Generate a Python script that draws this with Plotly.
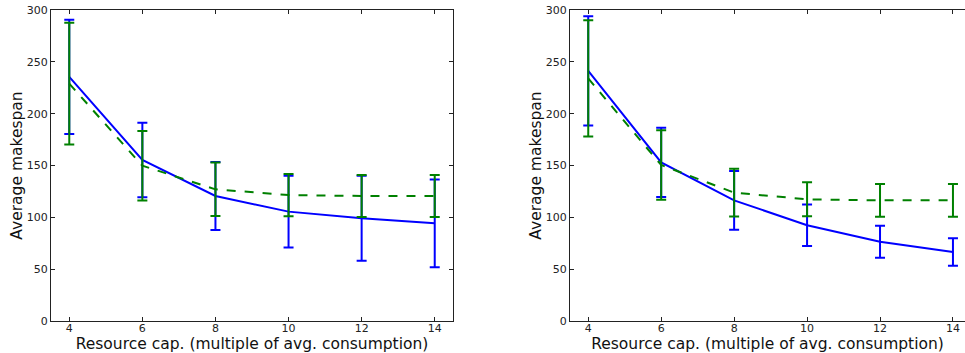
import plotly.graph_objects as go

caps = [4, 6, 8, 10, 12, 14]

left_blue = [235.5, 155.3, 120.6, 105.5, 99.0, 94.2]
left_blue_err = [55.2, 36.0, 32.7, 34.6, 41.0, 42.4]
left_green = [229.0, 149.8, 127.0, 121.5, 120.6, 120.6]
left_green_err = [58.7, 33.6, 25.8, 20.4, 20.2, 20.2]

right_blue = [241.2, 153.0, 116.4, 92.3, 76.5, 66.6]
right_blue_err = [52.7, 33.3, 28.3, 20.0, 15.4, 13.2]
right_green = [234.0, 150.5, 123.8, 117.4, 116.4, 116.4]
right_green_err = [56.0, 33.5, 23.0, 16.4, 15.8, 15.8]

x_title = "Resource cap. (multiple of avg. consumption)"
y_title = "Average makespan"
y_ticks = [0, 50, 100, 150, 200, 250, 300]

BLUE = "#0000ff"
GREEN = "#008000"

fig = go.Figure()

def add_panel(xa, ya, blue, blue_err, green, green_err):
    fig.add_trace(go.Scatter(
        x=caps, y=blue, mode="lines", xaxis=xa, yaxis=ya,
        line=dict(color=BLUE, width=2),
        error_y=dict(type="data", array=blue_err, visible=True,
                     color=BLUE, thickness=2, width=5),
        showlegend=False))
    fig.add_trace(go.Scatter(
        x=caps, y=green, mode="lines", xaxis=xa, yaxis=ya,
        line=dict(color=GREEN, width=2, dash="dash"),
        error_y=dict(type="data", array=green_err, visible=True,
                     color=GREEN, thickness=2, width=5),
        showlegend=False))

add_panel("x", "y", left_blue, left_blue_err, left_green, left_green_err)
add_panel("x2", "y2", right_blue, right_blue_err, right_green, right_green_err)

W, H = 965, 353
ax_common = dict(
    showline=True, linecolor="#222222", linewidth=1,
    ticks="inside", ticklen=4, tickcolor="#222222", tickwidth=1,
    showgrid=False, zeroline=False,
    tickfont=dict(family="DejaVu Sans", size=11, color="#222222"),
)
x_extra = dict(ticklabelstandoff=-3)
title_font = dict(family="DejaVu Sans", size=15.5, color="#111111")

fig.update_layout(
    width=W, height=H,
    margin=dict(l=0, r=0, t=10, b=32),
    plot_bgcolor="white", paper_bgcolor="white",
    xaxis=dict(domain=[51 / W, 453 / W], range=[3.5, 14.5], anchor="y",
               tickvals=caps, mirror="allticks",
               title=dict(text=x_title, standoff=0, font=title_font),
               **ax_common, **x_extra),
    yaxis=dict(domain=[0, 1], range=[0, 300], anchor="x",
               tickvals=y_ticks, mirror="allticks",
               title=dict(text=y_title, standoff=0, font=title_font),
               **ax_common),
    xaxis2=dict(domain=[570 / W, 1.0], range=[3.5, 14.33], anchor="y2",
                tickvals=caps, mirror="allticks",
                title=dict(text=x_title, standoff=0, font=title_font),
                **ax_common, **x_extra),
    yaxis2=dict(domain=[0, 1], range=[0, 300], anchor="x2",
                tickvals=y_ticks, mirror=False,
                title=dict(text=y_title, standoff=0, font=title_font),
                **ax_common),
)

fig.write_html("out.html")
